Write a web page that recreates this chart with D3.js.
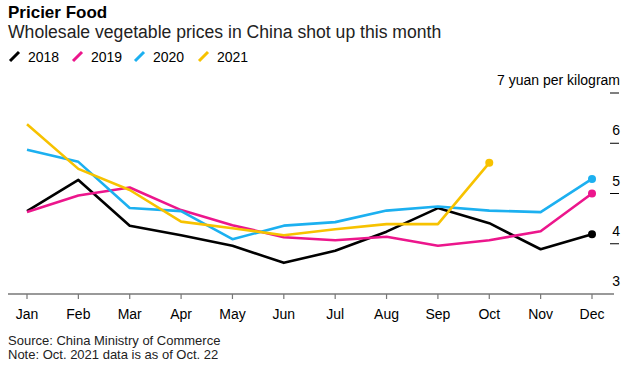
<!DOCTYPE html>
<html>
<head>
<meta charset="utf-8">
<script src="https://cdn.jsdelivr.net/npm/d3@7"></script>
<style>
  body { margin: 0; background: #fff; }
  text { font-family: "Liberation Sans", Arial, sans-serif; }
</style>
</head>
<body>
<svg width="624" height="368"></svg>
<script>
var months = ["Jan", "Feb", "Mar", "Apr", "May", "Jun", "Jul", "Aug", "Sep", "Oct", "Nov", "Dec"];
var years = ["2018", "2019", "2020", "2021"];
var colors = ["#000000", "#ec168c", "#1cb0f0", "#f7c200"];

var v2018 = [4.65, 5.27, 4.36, 4.17, 3.96, 3.62, 3.86, 4.24, 4.71, 4.41, 3.89, 4.19];
var v2019 = [4.63, 4.96, 5.12, 4.67, 4.37, 4.13, 4.07, 4.14, 3.96, 4.07, 4.25, 5.00];
var v2020 = [5.87, 5.63, 4.71, 4.65, 4.09, 4.36, 4.43, 4.66, 4.74, 4.66, 4.63, 5.29];
var v2021 = [6.38, 5.49, 5.07, 4.44, 4.31, 4.17, 4.29, 4.39, 4.39, 5.61];

var yTicks = [3, 4, 5, 6, 7];

var series = [v2018, v2019, v2020, v2021].map(function(vals, i) {
  return { year: years[i], color: colors[i], values: vals };
});

var svg = d3.select("svg");

var x = d3.scalePoint().domain(months).range([27, 592]);
var y = d3.scaleLinear().domain([3, 7]).range([294, 93]);

// titles
svg.append("text").attr("x", 8).attr("y", 18)
  .style("font-size", "17px").style("font-weight", "bold").text("Pricier Food");
svg.append("text").attr("x", 8).attr("y", 38)
  .style("font-size", "17.6px").attr("fill", "#222")
  .text("Wholesale vegetable prices in China shot up this month");

// legend
var legX = [9, 72, 134, 198];
var leg = svg.append("g").selectAll("g").data(series).enter().append("g")
  .attr("transform", function(d, i) { return "translate(" + legX[i] + ",57)"; });
leg.append("line").attr("x1", 1).attr("y1", 4).attr("x2", 10).attr("y2", -5)
  .attr("stroke", function(d) { return d.color; }).attr("stroke-width", 3);
leg.append("text").attr("x", 19).attr("y", 5)
  .style("font-size", "14px").text(function(d) { return d.year; });

// y axis on the right
var yg = svg.append("g").selectAll("g").data(yTicks).enter().append("g");
yg.filter(function(d) { return d > 3; }).append("line")
  .attr("x1", 610).attr("x2", 619)
  .attr("y1", function(d) { return y(d); }).attr("y2", function(d) { return y(d); })
  .attr("stroke", "#000").attr("stroke-width", 1);
yg.append("text").attr("x", 620).attr("y", function(d) { return y(d) - 8; })
  .attr("text-anchor", "end").style("font-size", "14px")
  .text(function(d) { return d === 7 ? "7 yuan per kilogram" : d; });

// x axis
svg.append("line").attr("x1", 8).attr("x2", 614).attr("y1", 294).attr("y2", 294)
  .attr("stroke", "#777").attr("stroke-width", 1.5);
var xg = svg.append("g").selectAll("g").data(months).enter().append("g");
xg.append("line").attr("x1", function(d) { return x(d); }).attr("x2", function(d) { return x(d); })
  .attr("y1", 294).attr("y2", 299).attr("stroke", "#777").attr("stroke-width", 1.2);
xg.append("text").attr("x", function(d) { return x(d); }).attr("y", 319)
  .attr("text-anchor", "middle").style("font-size", "14px").text(function(d) { return d; });

// lines
var line = d3.line()
  .x(function(d, i) { return x(months[i]); })
  .y(function(d) { return y(d); });

svg.append("g").selectAll("path").data(series).enter().append("path")
  .attr("d", function(d) { return line(d.values); })
  .attr("fill", "none")
  .attr("stroke", function(d) { return d.color; })
  .attr("stroke-width", 2.6)
  .attr("stroke-linejoin", "round");

svg.append("g").selectAll("circle").data(series).enter().append("circle")
  .attr("cx", function(d) { return x(months[d.values.length - 1]); })
  .attr("cy", function(d) { return y(d.values[d.values.length - 1]); })
  .attr("r", 4)
  .attr("fill", function(d) { return d.color; });

// footnotes
svg.append("text").attr("x", 8).attr("y", 345).style("font-size", "13px").attr("fill", "#222")
  .text("Source: China Ministry of Commerce");
svg.append("text").attr("x", 8).attr("y", 359).style("font-size", "13px").attr("fill", "#222")
  .text("Note: Oct. 2021 data is as of Oct. 22");
</script>
</body>
</html>
